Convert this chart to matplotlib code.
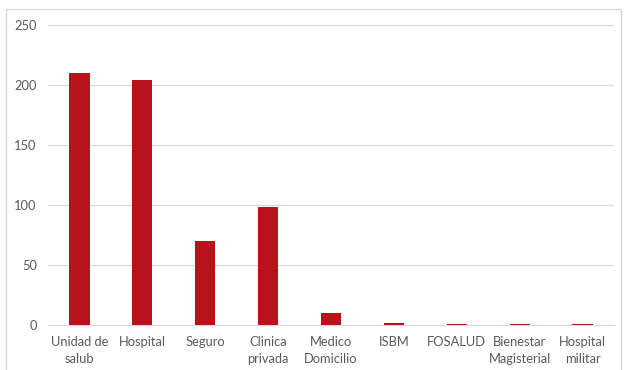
import matplotlib
matplotlib.use("Agg")
import matplotlib.pyplot as plt
from matplotlib.patches import Rectangle

categories = ["Unidad de\nsalub", "Hospital", "Seguro", "Clinica\nprivada", "Medico\nDomicilio",
              "ISBM", "FOSALUD", "Bienestar\nMagisterial", "Hospital\nmilitar"]
values = [210, 204, 70, 98, 10, 2, 1, 1, 1]
y_ticks = [0, 50, 100, 150, 200, 250]

plt.rcParams['font.family'] = ['Lato', 'DejaVu Sans']

fig = plt.figure(figsize=(6.25, 3.7), dpi=100)
fig.patch.set_facecolor("white")

# chart frame
fig.patches.append(Rectangle((6 / 625, -0.1), 615 / 625, 1.1 - 9 / 370,
                             transform=fig.transFigure, fill=False,
                             edgecolor="#d9d9d9", linewidth=1.0))

ax = fig.add_axes([48 / 625, 1 - 325 / 370, 566 / 625, 300 / 370])
x = range(len(categories))
ax.bar(x, values, width=0.32, color="#B8121D", zorder=3)

ax.set_ylim(0, 250)
ax.set_xlim(-0.5, len(categories) - 0.5)
ax.set_yticks(y_ticks)
ax.set_xticks(list(x))
ax.set_xticklabels(categories, fontsize=9.3, color="#595959", linespacing=1.5)
ax.tick_params(axis="y", labelsize=9.3, labelcolor="#595959", length=0, pad=8)
ax.tick_params(axis="x", length=0, pad=8)
ax.grid(axis="y", color="#d9d9d9", linewidth=0.8, zorder=0)
for s in ["top", "right", "left"]:
    ax.spines[s].set_visible(False)
ax.spines["bottom"].set_color("#d9d9d9")
ax.spines["bottom"].set_linewidth(0.8)

fig.savefig("out.png", dpi=100, facecolor="white")
